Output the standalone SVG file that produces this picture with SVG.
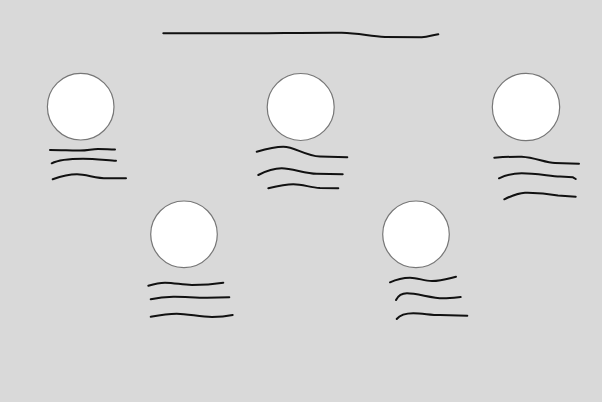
<svg xmlns="http://www.w3.org/2000/svg" width="602" height="402" viewBox="0 0 602 402">
<style>
.c{fill:#ffffff;stroke:#777777;stroke-width:1.2}
.w{fill:none;stroke:#111111;stroke-width:2;stroke-linecap:round;stroke-linejoin:round}
</style>
<rect x="0" y="0" width="602" height="402" fill="#d9d9d9"/>
<g id="title">
<path class="w" d="M163.3,33.3 L255,33.3 C290,33 320,32.5 341.7,32.7 C360,33 370,36.5 385,36.9 L421.7,37.3 C428,37 433,35 438.3,34.3"/>
</g>
<g id="node1">
<circle class="c" cx="80.7" cy="106.7" r="33.3"/>
<path class="w" d="M50,150 C62,150 72,150.8 80,150.6 S92,149 98,149 S110,149.5 115,149.5"/>
<path class="w" d="M51.7,163.3 C58,160 72,158.7 83,158.7 S108,160.3 116,160.7"/>
<path class="w" d="M52.7,179.3 C62,176 70,174.3 77,174.3 C86,174.3 96,178.3 107,178.3 L126,178.3"/>
</g>
<g id="node2">
<circle class="c" cx="300.7" cy="107" r="33.5"/>
<path class="w" d="M256.7,151.7 C266,149 276,146.7 283.3,146.7 C295,146.7 305,156 320,156.5 L347.3,157.3"/>
<path class="w" d="M258.3,175 C266,171 274,168.3 281.7,168.3 C292,168.3 305,173.5 316.7,173.8 L342.7,174.3"/>
<path class="w" d="M268.3,188.3 C278,186 286,184.3 293.3,184.3 C303,184.3 310,187.5 320,188 L338.3,188.3"/>
</g>
<g id="node3">
<circle class="c" cx="526" cy="107" r="33.7"/>
<path class="w" d="M494.3,157.7 C505,157 515,156.5 521.7,156.7 C535,157.5 545,162.5 555,163 L579,163.7"/>
<path class="w" d="M499,178.3 C506,175 514,173.3 521.7,173.3 C535,173.3 550,176 560,176.5 L573,177.3 L575.7,179"/>
<path class="w" d="M504.3,199.3 C511,196 518,193 525,192.7 C537,192.5 550,194 558,195.5 L575.7,196.7"/>
</g>
<g id="node4">
<circle class="c" cx="184" cy="234.3" r="33.3"/>
<path class="w" d="M148.3,285.7 C154,284 159,282.7 165,282.7 C175,282.7 182,285 192,285 C205,285 215,284 223.3,282.7"/>
<path class="w" d="M150.7,299.3 C158,297.5 166,296.7 173.3,296.7 C183,296.5 195,297.7 207,297.7 L229.3,297.3"/>
<path class="w" d="M150.7,316.7 C160,315 168,313.7 176.7,313.7 C188,313.7 200,317 212,317 C222,317 228,316 232.7,315"/>
</g>
<g id="node5">
<circle class="c" cx="416" cy="234.3" r="33.3"/>
<path class="w" d="M390,282.3 C396,279.5 403,277.7 410,277.7 C418,277.7 424,281 432,281 C442,281 450,278 456,276.7"/>
<path class="w" d="M396,300 C398,296 402,293.3 407,293.3 C417,293.3 432,298.3 443,298.3 C450,298.3 456,297.5 460.7,297"/>
<path class="w" d="M396.7,319 C400,315 406,313.3 413.3,313.3 C423,313.3 430,315 440,315 L467.3,315.7"/>
</g>
<g id="connectors"/>
</svg>
